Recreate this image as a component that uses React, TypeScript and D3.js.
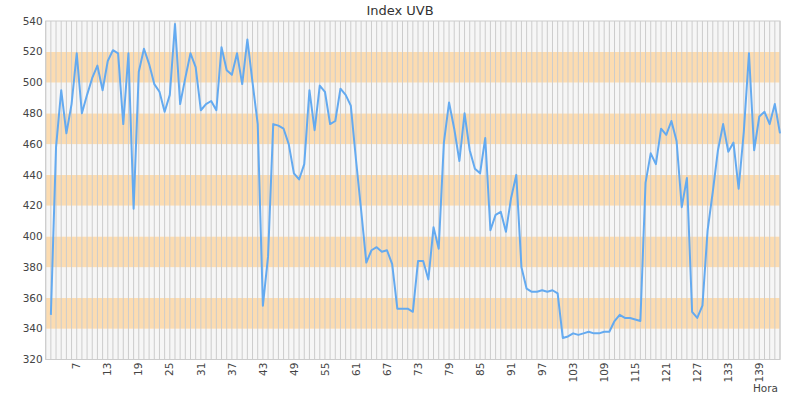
import React from "react";
import * as d3 from "d3";

const title = "Index UVB";
const xAxisLabel = "Hora";
const yTicks = [320, 340, 360, 380, 400, 420, 440, 460, 480, 500, 520, 540];
const xTickLabels = [7, 13, 19, 25, 31, 37, 43, 49, 55, 61, 67, 73, 79, 85, 91, 97, 103, 109, 115, 121, 127, 133, 139];
const firstHour = 2;
const values = [
  349, 458, 495, 467, 486, 519, 480, 492, 503, 511,
  495, 514, 521, 519, 473, 519, 418, 507, 522, 512,
  499, 494, 481, 492, 538, 486, 503, 519, 510, 482,
  486, 488, 482, 523, 508, 505, 519, 499, 528, 500,
  473, 355, 387, 473, 472, 470, 460, 441, 437, 447,
  495, 469, 498, 494, 473, 475, 496, 492, 485, 450,
  417, 383, 391, 393, 390, 391, 382, 353, 353, 353,
  351, 384, 384, 372, 406, 392, 461, 487, 470, 449,
  480, 456, 444, 441, 464, 404, 414, 416, 403, 425,
  440, 380, 366, 364, 364, 365, 364, 365, 363, 334,
  335, 337, 336, 337, 338, 337, 337, 338, 338, 345,
  349, 347, 347, 346, 345, 435, 454, 447, 470, 466,
  475, 462, 419, 438, 351, 347, 355, 404, 429, 456,
  473, 455, 461, 431, 468, 519, 456, 478, 481, 473,
  486, 467,
];

const W = 800;
const H = 400;
const M = { left: 45.7, right: 780, top: 21, bottom: 359.5 };

export default function App() {
  const x = d3.scaleLinear().domain([1, 143]).range([M.left, M.right]);
  const y = d3.scaleLinear().domain([320, 540]).range([M.bottom, M.top]);
  const data = values.map((v, i) => ({ h: firstHour + i, v }));
  const line = d3
    .line<{ h: number; v: number }>()
    .x((d) => x(d.h))
    .y((d) => y(d.v));
  const bands = d3.range(320, 540, 20);
  const grid = d3.range(1, 144);
  const font = "DejaVu Sans, sans-serif";
  return (
    <svg
      width={W}
      height={H}
      style={{ position: "absolute", left: 0, top: 0, display: "block" }}
    >
      <rect x={0} y={0} width={W} height={H} fill="#fff" />
      {bands.map((b, i) => (
        <rect
          key={b}
          x={M.left}
          width={M.right - M.left}
          y={y(b + 20)}
          height={y(b) - y(b + 20)}
          fill={i % 2 === 1 ? "#fcdcb1" : "#f6f6f6"}
        />
      ))}
      {grid.map((g) => (
        <line
          key={g}
          x1={x(g)}
          x2={x(g)}
          y1={M.top}
          y2={M.bottom}
          stroke="#cccccc"
          strokeWidth={1}
        />
      ))}
      <rect
        x={M.left}
        y={M.top}
        width={M.right - M.left}
        height={M.bottom - M.top}
        fill="none"
        stroke="#cccccc"
        strokeWidth={1}
      />
      <path d={line(data) || ""} fill="none" stroke="#64aaf0" strokeWidth={2} strokeLinejoin="round" />
      {yTicks.map((t) => (
        <text
          key={t}
          x={M.left - 3}
          y={y(t)}
          dy="0.35em"
          textAnchor="end"
          fontFamily={font}
          fontSize={10.5}
          fill="#444"
        >
          {t}
        </text>
      ))}
      {xTickLabels.map((t) => (
        <text
          key={t}
          transform={`translate(${x(t)},${M.bottom + 3}) rotate(-90)`}
          dy="0.35em"
          textAnchor="end"
          fontFamily={font}
          fontSize={10.5}
          fill="#444"
        >
          {t}
        </text>
      ))}
      <text x={M.right - 2} y={391.5} textAnchor="end" fontFamily={font} fontSize={10.5} fill="#444">
        {xAxisLabel}
      </text>
      <text x={400} y={15} textAnchor="middle" fontFamily={font} fontSize={13} fill="#333">
        {title}
      </text>
    </svg>
  );
}
